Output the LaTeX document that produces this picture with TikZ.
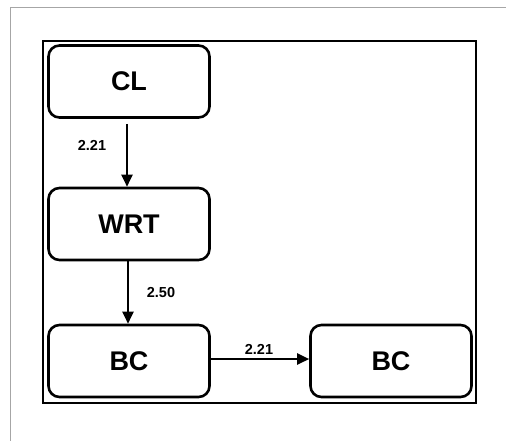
\documentclass[tikz,border=0pt]{standalone}
\usepackage{fontspec}
\setmainfont{Liberation Sans}
\usetikzlibrary{arrows.meta}

\tikzset{
  statebox/.style={draw=black, line width=2.6pt, rounded corners=11pt, fill=white,
    minimum width=161pt, minimum height=72pt, inner sep=0pt,
    font=\fontsize{27}{29}\selectfont\bfseries},
  rate/.style={font=\fontsize{14.5}{16}\selectfont\bfseries, inner sep=0pt},
  flow/.style={line width=2.4pt, -{Triangle[length=12pt,width=11pt]}}
}

\begin{document}
\begin{tikzpicture}[x=1pt, y=-1pt]
    \useasboundingbox (0,0) rectangle (506,440);
    % outer frame and inner box
    \draw[gray!70, line width=1pt] (10,442) -- (10,7) -- (508,7);
    \draw[black, line width=1.8pt] (43,41) rectangle (476,403);
    % states
    \node[statebox] (cl)  at (129,81.5) {CL};
    \node[statebox] (wrt) at (129,224)  {WRT};
    \node[statebox] (bca) at (129,361)  {BC};
    \node[statebox] (bcb) at (391,361)  {BC};
    % transitions
    \draw[flow, shorten <=5pt] ([xshift=-2pt]cl.south) -- ([xshift=-2pt]wrt.north);
    \draw[flow] ([xshift=-1pt]wrt.south) -- ([xshift=-1pt]bca.north);
    \draw[flow] ([yshift=2pt]bca.east) -- ([yshift=2pt]bcb.west);
    % rates
    \node[rate] (r1) at (92,145)  {2.21};
    \node[rate] (r2) at (161,293) {2.50};
    \node[rate] (r3) at (259,349) {2.21};
\end{tikzpicture}
\end{document}
